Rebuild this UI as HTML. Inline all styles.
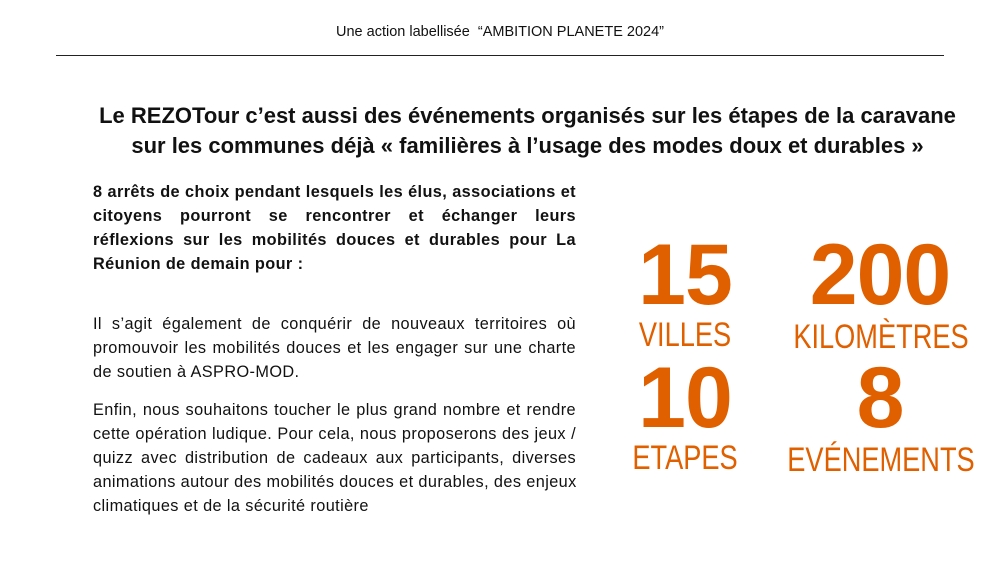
<!DOCTYPE html>
<html><head><meta charset="utf-8"><style>
body{margin:0;width:1000px;height:562px;background:#fff;position:relative;overflow:hidden;font-family:"Liberation Sans",sans-serif;color:#111}
.a{position:absolute}
.top{left:0;width:1000px;top:24px;text-align:center;font-size:14.5px}
.hr{left:56px;width:888px;top:55px;height:1px;background:#222}
.title{left:0;width:1055px;top:101px;text-align:center;font-weight:bold;font-size:22px;line-height:30px}
.txt{left:93px;width:483px;font-size:16.3px;line-height:24px;letter-spacing:0.4px}
.txt div{text-align:justify;text-align-last:justify;white-space:nowrap;height:24px}
.txt div.e{text-align-last:left}
.n{color:#e06000;font-weight:900;font-size:86px;text-align:center;width:300px;line-height:1;letter-spacing:-1px}
.l{color:#e06000;font-size:34px;text-align:center;width:300px;line-height:1;transform:scaleX(0.8)}
</style></head><body>
<div class="a top">Une action labellisée&nbsp; “AMBITION PLANETE 2024”</div>
<div class="a hr"></div>
<div class="a title">Le REZOTour c’est aussi des événements organisés sur les étapes de la caravane<br>sur les communes déjà « familières à l’usage des modes doux et durables »</div>
<div class="a txt" style="top:180px;font-weight:bold">
<div>8 arrêts de choix pendant lesquels les élus, associations et</div>
<div>citoyens pourront se rencontrer et échanger leurs</div>
<div>réflexions sur les mobilités douces et durables pour La</div>
<div class="e">Réunion de demain pour :</div>
</div>
<div class="a txt" style="top:312px">
<div>Il s’agit également de conquérir de nouveaux territoires où</div>
<div>promouvoir les mobilités douces et les engager sur une charte</div>
<div class="e">de soutien à ASPRO-MOD.</div>
</div>
<div class="a txt" style="top:398px">
<div>Enfin, nous souhaitons toucher le plus grand nombre et rendre</div>
<div>cette opération ludique. Pour cela, nous proposerons des jeux /</div>
<div>quizz avec distribution de cadeaux aux participants, diverses</div>
<div>animations autour des mobilités douces et durables, des enjeux</div>
<div class="e">climatiques et de la sécurité routière</div>
</div>
<div class="a n" style="left:535px;top:232px">15</div>
<div class="a n" style="left:730px;top:232px">200</div>
<div class="a l" style="left:535px;top:318px">VILLES</div>
<div class="a l" style="left:731px;top:320px">KILOMÈTRES</div>
<div class="a n" style="left:535px;top:355px">10</div>
<div class="a n" style="left:730px;top:355px">8</div>
<div class="a l" style="left:535px;top:441px">ETAPES</div>
<div class="a l" style="left:731px;top:443px">EVÉNEMENTS</div>
</body></html>
